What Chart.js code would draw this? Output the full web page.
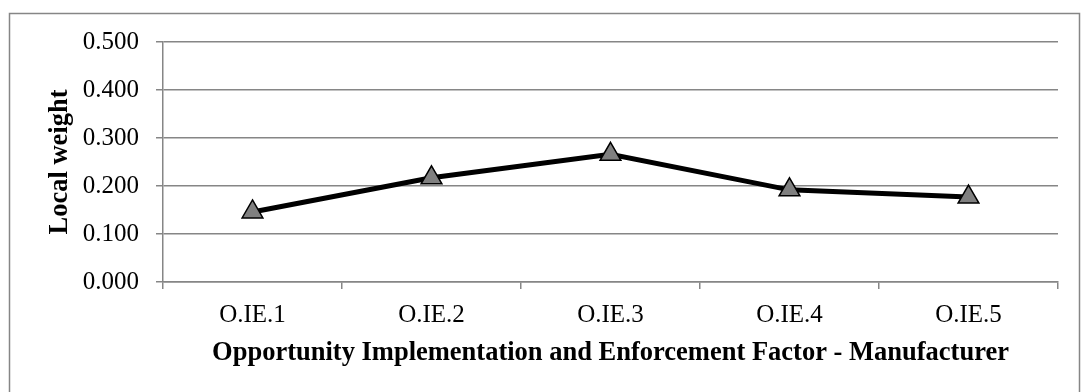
<!DOCTYPE html>
<html>
<head>
<meta charset="utf-8">
<script src="https://cdn.jsdelivr.net/npm/chart.js@4/dist/chart.umd.min.js"></script>
<style>
  html, body { margin: 0; padding: 0; background: #ffffff; }
  #wrap { position: relative; width: 1081px; height: 392px; }
</style>
</head>
<body>
<div id="wrap"><canvas id="chart" width="1081" height="392"></canvas></div>
<script>
// Local weights of the opportunity implementation & enforcement sub-factors
const categories = ['O.IE.1', 'O.IE.2', 'O.IE.3', 'O.IE.4', 'O.IE.5'];
const localWeight = [0.146, 0.217, 0.266, 0.192, 0.177];
const yTicks = [0, 0.1, 0.2, 0.3, 0.4, 0.5];

const FONT = '"Liberation Serif", "Times New Roman", serif';
const GRID = '#868686';

// Thin grey frame around the whole chart
const framePlugin = {
  id: 'frame',
  beforeDraw(chart) {
    const ctx = chart.ctx;
    ctx.save();
    ctx.strokeStyle = GRID;
    ctx.lineWidth = 1.5;
    ctx.strokeRect(9.5, 13.5, 1070, 400);
    ctx.restore();
  }
};

new Chart(document.getElementById('chart'), {
  type: 'line',
  data: {
    labels: categories,
    datasets: [{
      data: localWeight,
      borderColor: '#000000',
      borderWidth: 5,
      pointStyle: 'triangle',
      pointRadius: 12,
      pointHoverRadius: 12,
      pointBackgroundColor: '#808080',
      pointBorderColor: '#000000',
      pointBorderWidth: 1.5,
      tension: 0
    }]
  },
  options: {
    responsive: false,
    animation: false,
    devicePixelRatio: 1,
    layout: { padding: { left: 44, top: 42, right: 23, bottom: 0 } },
    plugins: { legend: { display: false }, tooltip: { enabled: false } },
    scales: {
      x: {
        type: 'category',
        offset: true,
        afterFit(scale) { scale.height = 110; },
        grid: {
          offset: true,
          drawOnChartArea: false,
          drawTicks: true,
          tickLength: 7,
          color: GRID,
          lineWidth: 1.5
        },
        border: { display: true, color: GRID, width: 1.5 },
        ticks: {
          color: '#000000',
          padding: 11,
          font: { family: FONT, size: 25 },
          maxRotation: 0
        },
        title: {
          display: true,
          text: 'Opportunity Implementation and Enforcement Factor - Manufacturer',
          color: '#000000',
          font: { family: FONT, size: 26.5, weight: 'bold' },
          padding: { top: 0, bottom: 23 }
        }
      },
      y: {
        min: 0,
        max: 0.5,
        afterFit(scale) { scale.width = 119; },
        afterBuildTicks(scale) { scale.ticks = yTicks.map(v => ({ value: v })); },
        grid: {
          color: GRID,
          lineWidth: 1.5,
          drawTicks: true,
          tickLength: 7
        },
        border: { display: true, color: GRID, width: 1.5 },
        ticks: {
          color: '#000000',
          padding: 17,
          font: { family: FONT, size: 25 },
          callback: v => Number(v).toFixed(3)
        },
        title: {
          display: true,
          text: 'Local weight',
          color: '#000000',
          font: { family: FONT, size: 26.5, weight: 'bold' },
          padding: { top: 0, bottom: 0 }
        }
      }
    }
  },
  plugins: [framePlugin]
});
</script>
</body>
</html>
